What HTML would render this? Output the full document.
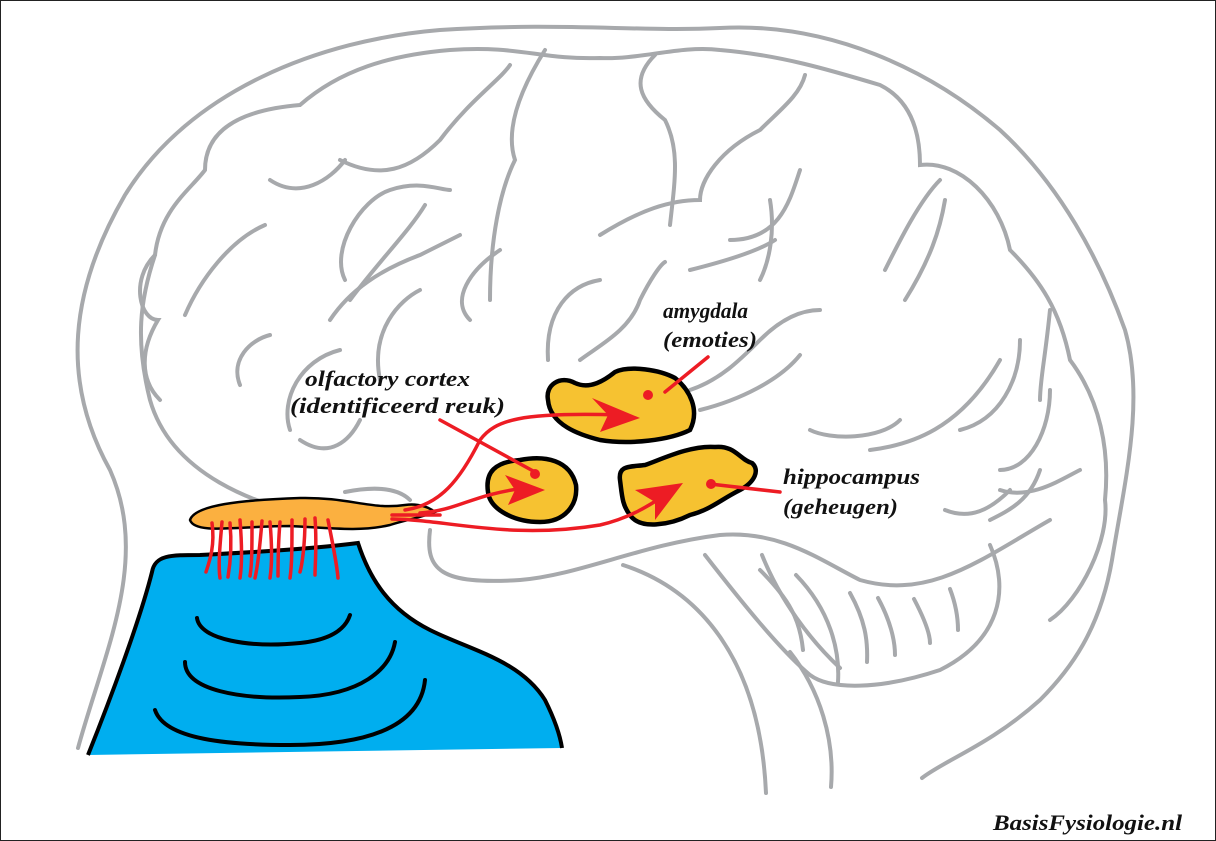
<!DOCTYPE html>
<html><head><meta charset="utf-8"><style>
html,body{margin:0;padding:0;background:#fff}
svg{display:block}
text{font-family:"Liberation Serif",serif;font-style:italic;font-weight:bold;font-size:22px;fill:#111}
</style></head><body>
<svg width="1216" height="841" viewBox="0 0 1216 841" xmlns="http://www.w3.org/2000/svg">
<rect x="0.5" y="0.5" width="1215" height="840" fill="#fff" stroke="#222" stroke-width="1"/>
<g fill="none" stroke="#a7a9ac" stroke-width="4" stroke-linecap="round">
<path d="M78,748 C105,650 150,560 110,470 C60,380 70,290 125,195 C190,90 320,40 440,30 C560,22 640,32 720,28 C830,22 930,70 1000,130 C1060,185 1100,260 1125,330 C1145,400 1125,480 1112,560 C1100,630 1070,670 1040,700 C990,745 945,760 922,778"/>
<path d="M345,520 C250,510 170,470 150,400 C135,340 140,300 155,255 C160,210 190,190 205,170 C205,130 240,110 300,105 C340,70 390,55 450,50 C520,45 540,60 600,58 C640,60 680,45 720,50 C780,55 830,70 880,85 C910,100 920,130 920,165 C960,160 1000,200 1010,250 C1040,280 1060,310 1070,360 C1100,400 1110,450 1105,500 C1110,540 1080,600 1050,620"/>
<path d="M155,255 C130,280 140,320 158,320 C140,350 140,380 160,400"/>
<path d="M430,530 C425,570 440,585 520,580 C580,575 640,545 720,535 C780,530 820,560 860,580 C930,600 980,560 1050,520"/>
<path d="M990,545 C1010,590 1000,640 940,670 C880,690 830,690 810,675 C780,650 740,600 705,555"/>
<path d="M623,565 C700,590 760,660 766,793"/>
<path d="M790,652 C820,690 835,740 831,787"/>
<path d="M762,555 C780,600 810,640 840,668"/>
<path d="M760,570 C790,600 800,620 803,650"/>
<path d="M796,575 C830,610 840,650 838,682"/>
<path d="M850,593 C865,620 868,640 867,662"/>
<path d="M878,598 C890,620 895,640 895,655"/>
<path d="M914,599 C925,620 930,635 930,643"/>
<path d="M950,589 C958,610 958,625 958,630"/>
<path d="M185,315 C200,280 230,240 265,225"/>
<path d="M270,180 C300,200 330,180 345,160"/>
<path d="M340,160 C380,180 410,170 440,140 C470,100 500,80 510,65"/>
<path d="M545,50 C520,90 505,130 515,160 C500,190 490,240 490,300"/>
<path d="M655,55 C630,80 640,100 665,120 C680,150 675,180 670,225"/>
<path d="M345,280 C330,250 360,200 390,190 C420,180 440,190 450,190"/>
<path d="M330,320 C350,290 380,270 420,255 C440,245 450,240 460,235"/>
<path d="M240,385 C230,360 250,340 270,335"/>
<path d="M290,430 C280,400 300,360 340,350"/>
<path d="M350,300 C380,260 410,230 425,205"/>
<path d="M380,380 C370,330 400,300 420,290"/>
<path d="M300,440 C330,460 350,440 360,420"/>
<path d="M470,320 C450,300 470,270 500,250"/>
<path d="M548,360 C545,310 570,285 600,280"/>
<path d="M580,360 C600,345 630,330 640,300 C650,280 660,265 665,262"/>
<path d="M600,235 C640,210 670,200 700,200 C700,180 720,150 760,130 C780,110 800,95 805,75"/>
<path d="M730,240 C780,240 790,200 800,170"/>
<path d="M770,200 C775,230 770,260 760,280"/>
<path d="M690,270 C730,260 760,250 775,240"/>
<path d="M690,390 C720,380 740,360 760,340 C780,320 800,310 820,310"/>
<path d="M700,410 C740,400 780,380 800,355"/>
<path d="M810,430 C830,440 880,440 900,420"/>
<path d="M870,450 C910,445 960,430 1000,360"/>
<path d="M885,270 C900,240 920,200 940,180"/>
<path d="M905,300 C930,260 940,230 945,200"/>
<path d="M960,430 C1000,420 1020,380 1020,340"/>
<path d="M1000,470 C1030,470 1050,430 1050,390"/>
<path d="M1000,490 C1030,500 1060,480 1080,470"/>
<path d="M945,510 C970,520 990,510 1010,490"/>
<path d="M990,520 C1010,510 1030,500 1040,470"/>
<path d="M1050,310 C1045,360 1040,380 1040,400"/>
<path d="M345,492 C380,485 400,490 410,500"/>
</g>
<path d="M88,755 C110,700 140,620 152,572 C155,555 170,555 200,555 C260,552 320,548 358,543 C370,580 390,610 430,630 C470,650 520,660 545,700 C555,720 560,735 562,748 L88,755 Z" fill="#00aeef"/>
<path d="M88,755 C110,700 140,620 152,572 C155,555 170,555 200,555 C260,552 320,548 358,543 C370,580 390,610 430,630 C470,650 520,660 545,700 C555,720 560,735 562,748" fill="none" stroke="#000" stroke-width="4"/>
<g fill="none" stroke="#000" stroke-width="4" stroke-linecap="round">
<path d="M197,618 C200,640 250,648 300,643 C330,640 345,630 350,615"/>
<path d="M185,662 C185,690 240,700 300,697 C360,695 390,670 395,642"/>
<path d="M155,710 C165,740 230,745 290,745 C360,745 420,730 425,680"/>
</g>
<path d="M190,520 C195,505 240,500 300,498 C350,497 370,510 405,505 C420,503 430,508 435,512 C420,518 405,520 390,525 C360,532 330,528 290,526 C240,526 195,535 190,520 Z" fill="#fbb040" stroke="#000" stroke-width="2.5"/>
<g fill="none" stroke="#ed1c24" stroke-width="3.5" stroke-linecap="round">
<path d="M212,523 C215,545 210,560 206,572"/>
<path d="M222,522 C220,545 218,565 220,578"/>
<path d="M230,523 C232,545 230,565 228,577"/>
<path d="M240,520 C242,545 242,565 240,578"/>
<path d="M252,522 C252,545 252,565 250,576"/>
<path d="M262,521 C260,545 258,565 255,578"/>
<path d="M270,522 C272,545 272,565 270,578"/>
<path d="M280,522 C278,545 278,565 278,576"/>
<path d="M292,520 C292,545 292,565 290,578"/>
<path d="M305,519 C305,545 302,565 300,572"/>
<path d="M315,518 C317,545 315,565 315,575"/>
<path d="M328,520 C333,545 337,565 338,578"/>
</g>
<g fill="#f6c231" stroke="#000" stroke-width="4.5">
<path d="M548,400 C545,385 560,375 575,383 C590,390 605,380 615,372 C630,365 660,370 675,378 C690,390 700,410 690,430 C670,440 630,445 600,440 C580,435 550,425 548,400 Z"/>
<path d="M488,492 C485,472 495,462 520,460 C545,455 570,460 576,485 C578,505 565,522 540,522 C515,522 490,510 488,492 Z"/>
<path d="M620,480 C618,465 630,467 645,465 C660,460 690,445 715,447 C735,445 740,460 752,463 C760,470 755,482 740,490 C720,500 710,510 690,515 C670,525 640,530 630,515 C622,505 622,495 620,480 Z"/>
</g>
<g fill="none" stroke="#ed1c24" stroke-width="3.5" stroke-linecap="round">
<path d="M392,515 L440,515"/>
<path d="M392,519 C450,520 510,540 600,525 C630,518 650,505 665,495"/>
<path d="M405,510 C440,505 460,480 480,440 C495,420 520,412 620,415"/>
<path d="M420,513 C460,510 470,495 525,488"/>
<path d="M440,420 L535,472"/>
<path d="M665,392 L708,357"/>
<path d="M710,484 L780,492"/>
</g>
<g fill="#ed1c24">
<path d="M592,398 L640,418 L600,432 L608,415 Z"/>
<path d="M505,475 L545,490 L508,505 L515,490 Z"/>
<path d="M635,490 L683,483 L655,520 L655,502 Z"/>
<circle cx="648" cy="395" r="5"/>
<circle cx="535" cy="474" r="5"/>
<circle cx="711" cy="484" r="5"/>
</g>
<text x="305" y="386" textLength="165" lengthAdjust="spacingAndGlyphs">olfactory cortex</text>
<text x="290" y="413" textLength="215" lengthAdjust="spacingAndGlyphs">(identificeerd reuk)</text>
<text x="663" y="318" textLength="85" lengthAdjust="spacingAndGlyphs">amygdala</text>
<text x="663" y="347" textLength="94" lengthAdjust="spacingAndGlyphs">(emoties)</text>
<text x="783" y="484" textLength="137" lengthAdjust="spacingAndGlyphs">hippocampus</text>
<text x="783" y="514" textLength="115" lengthAdjust="spacingAndGlyphs">(geheugen)</text>
<text x="993" y="830" textLength="189" lengthAdjust="spacingAndGlyphs">BasisFysiologie.nl</text>
</svg>
</body></html>
